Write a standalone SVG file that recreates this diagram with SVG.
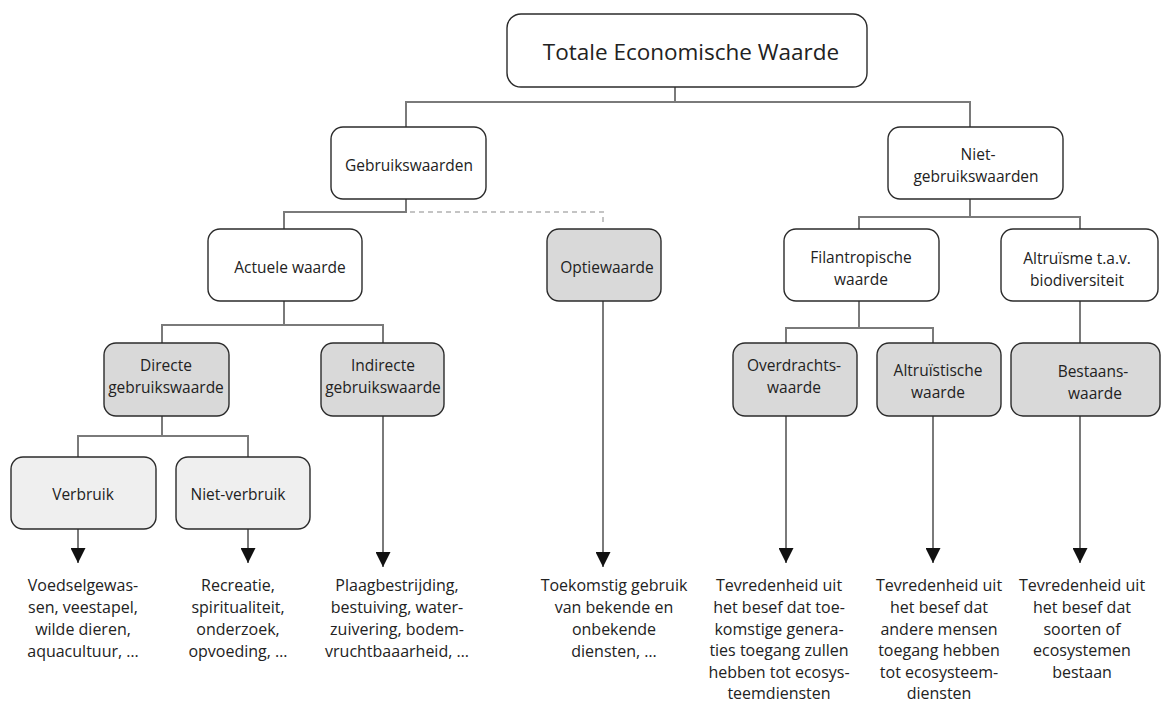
<svg xmlns="http://www.w3.org/2000/svg" width="1163" height="702" viewBox="0 0 1163 702">
  <defs>
    <style>
      .box { stroke: #2b2b2b; stroke-width: 1.4; }
      .white { fill: #ffffff; }
      .grey { fill: #d9d9d9; }
      .light { fill: #efefef; }
      .lbl { font-family: "Open Sans", "Liberation Sans", sans-serif; font-size: 15.5px; fill: #222; text-anchor: middle; }
      .title { font-family: "Open Sans", "Liberation Sans", sans-serif; font-size: 22.5px; fill: #222; text-anchor: middle; }
      .desc { font-family: "Open Sans", "Liberation Sans", sans-serif; font-size: 16px; fill: #222; text-anchor: middle; }
      .link { fill: none; stroke: #7a7a7a; stroke-width: 2; }
      .dash { fill: none; stroke: #c4c4c4; stroke-width: 2; stroke-dasharray: 5 4; }
      .arrow { fill: none; stroke: #7a7a7a; stroke-width: 2; marker-end: url(#tri); }
    </style>
    <marker id="tri" viewBox="0 0 10 10" refX="10" refY="5" markerWidth="7.5" markerHeight="7.5" markerUnits="strokeWidth" orient="auto">
      <path d="M0,0 L10,5 L0,10 Z" fill="#111"/>
    </marker>
  </defs>
  <rect width="1163" height="702" fill="#ffffff"/>

  <!-- connectors -->
  <g id="connectors">
    <path class="link" d="M675,87 V102 M406,127 V102 H970 V127"/>
    <path class="link" d="M406,199 V212 H284 V229"/>
    <path class="dash" d="M410,212 H603 V224"/>
    <path class="link" d="M284,301 V325 M162,343 V325 H383 V343"/>
    <path class="link" d="M162,416 V436 M78,457 V436 H248 V457"/>
    <path class="link" d="M970,199 V217 M859,229 V217 H1080 V229"/>
    <path class="link" d="M859,301 V328 M786,343 V328 H933 V343"/>
    <path class="link" d="M1080,301 V343"/>
    <path class="arrow" d="M78,529 V563"/>
    <path class="arrow" d="M248,529 V563"/>
    <path class="arrow" d="M383,416 V567"/>
    <path class="arrow" d="M603,301 V567"/>
    <path class="arrow" d="M786,416 V563"/>
    <path class="arrow" d="M933,416 V563"/>
    <path class="arrow" d="M1080,416 V563"/>
  </g>

  <g id="totaal">
    <rect class="box white" x="507" y="14" width="360" height="73" rx="14"/>
    <text class="title" x="691" y="60">Totale Economische Waarde</text>
  </g>
  <g id="gebruikswaarden">
    <rect class="box white" x="331" y="127" width="155" height="72" rx="12"/>
    <text class="lbl" x="409" y="171">Gebruikswaarden</text>
  </g>
  <g id="niet-gebruikswaarden">
    <rect class="box white" x="888" y="127" width="175" height="72" rx="12"/>
    <text class="lbl" x="978" y="160">Niet-</text>
    <text class="lbl" x="976" y="182">gebruikswaarden</text>
  </g>
  <g id="actuele-waarde">
    <rect class="box white" x="208" y="229" width="154" height="72" rx="12"/>
    <text class="lbl" x="290" y="273">Actuele waarde</text>
  </g>
  <g id="optiewaarde">
    <rect class="box grey" x="547" y="229" width="114" height="72" rx="12"/>
    <text class="lbl" x="607" y="273">Optiewaarde</text>
  </g>
  <g id="filantropische-waarde">
    <rect class="box white" x="784" y="229" width="155" height="72" rx="12"/>
    <text class="lbl" x="861" y="263">Filantropische</text>
    <text class="lbl" x="861" y="285">waarde</text>
  </g>
  <g id="altruisme">
    <rect class="box white" x="1001" y="229" width="157" height="72" rx="12"/>
    <text class="lbl" x="1077" y="264">Altruïsme t.a.v.</text>
    <text class="lbl" x="1077" y="286">biodiversiteit</text>
  </g>
  <g id="directe">
    <rect class="box grey" x="104" y="343" width="125" height="73" rx="12"/>
    <text class="lbl" x="166" y="371">Directe</text>
    <text class="lbl" x="166" y="393">gebruikswaarde</text>
  </g>
  <g id="indirecte">
    <rect class="box grey" x="321" y="343" width="123" height="73" rx="12"/>
    <text class="lbl" x="383" y="371">Indirecte</text>
    <text class="lbl" x="383" y="393">gebruikswaarde</text>
  </g>
  <g id="overdrachtswaarde">
    <rect class="box grey" x="733" y="343" width="124" height="73" rx="12"/>
    <text class="lbl" x="794" y="371">Overdrachts-</text>
    <text class="lbl" x="794" y="393">waarde</text>
  </g>
  <g id="altruistische-waarde">
    <rect class="box grey" x="877" y="343" width="124" height="73" rx="12"/>
    <text class="lbl" x="938" y="376">Altruïstische</text>
    <text class="lbl" x="938" y="398">waarde</text>
  </g>
  <g id="bestaanswaarde">
    <rect class="box grey" x="1011" y="343" width="149" height="73" rx="12"/>
    <text class="lbl" x="1093" y="377">Bestaans-</text>
    <text class="lbl" x="1095" y="399">waarde</text>
  </g>
  <g id="verbruik">
    <rect class="box light" x="11" y="457" width="145" height="72" rx="12"/>
    <text class="lbl" x="83" y="500">Verbruik</text>
  </g>
  <g id="niet-verbruik">
    <rect class="box light" x="176" y="457" width="134" height="72" rx="12"/>
    <text class="lbl" x="238" y="500">Niet-verbruik</text>
  </g>

  <!-- descriptions under the arrows -->
  <g id="desc-verbruik">
    <text class="desc" x="83" y="591">Voedselgewas-</text>
    <text class="desc" x="83" y="613">sen, veestapel,</text>
    <text class="desc" x="83" y="635">wilde dieren,</text>
    <text class="desc" x="83" y="657">aquacultuur, …</text>
  </g>
  <g id="desc-niet-verbruik">
    <text class="desc" x="238" y="591">Recreatie,</text>
    <text class="desc" x="238" y="613">spiritualiteit,</text>
    <text class="desc" x="238" y="635">onderzoek,</text>
    <text class="desc" x="238" y="657">opvoeding, …</text>
  </g>
  <g id="desc-indirect">
    <text class="desc" x="397" y="591">Plaagbestrijding,</text>
    <text class="desc" x="397" y="613">bestuiving, water-</text>
    <text class="desc" x="397" y="635">zuivering, bodem-</text>
    <text class="desc" x="397" y="657">vruchtbaaarheid, …</text>
  </g>
  <g id="desc-optie">
    <text class="desc" x="614" y="591">Toekomstig gebruik</text>
    <text class="desc" x="614" y="613">van bekende en</text>
    <text class="desc" x="614" y="635">onbekende</text>
    <text class="desc" x="614" y="657">diensten, …</text>
  </g>
  <g id="desc-overdracht">
    <text class="desc" x="779" y="591">Tevredenheid uit</text>
    <text class="desc" x="779" y="613">het besef dat toe-</text>
    <text class="desc" x="779" y="634.5">komstige genera-</text>
    <text class="desc" x="779" y="656">ties toegang zullen</text>
    <text class="desc" x="779" y="677.5">hebben tot ecosys-</text>
    <text class="desc" x="779" y="699">teemdiensten</text>
  </g>
  <g id="desc-altruistisch">
    <text class="desc" x="939" y="591">Tevredenheid uit</text>
    <text class="desc" x="939" y="613">het besef dat</text>
    <text class="desc" x="939" y="634.5">andere mensen</text>
    <text class="desc" x="939" y="656">toegang hebben</text>
    <text class="desc" x="939" y="677.5">tot ecosysteem-</text>
    <text class="desc" x="939" y="699">diensten</text>
  </g>
  <g id="desc-bestaan">
    <text class="desc" x="1082" y="591">Tevredenheid uit</text>
    <text class="desc" x="1082" y="613">het besef dat</text>
    <text class="desc" x="1082" y="634.5">soorten of</text>
    <text class="desc" x="1082" y="656">ecosystemen</text>
    <text class="desc" x="1082" y="677.5">bestaan</text>
  </g>
</svg>
